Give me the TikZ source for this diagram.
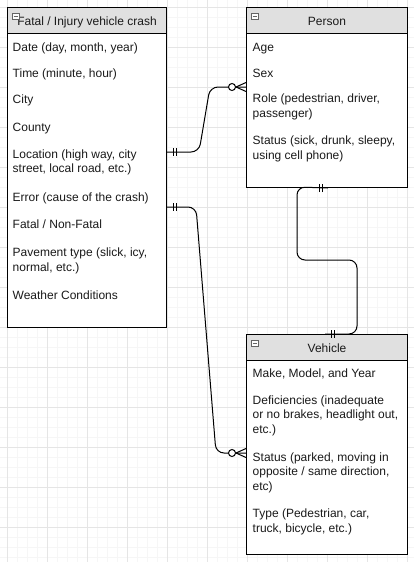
\documentclass[tikz,border=0pt]{standalone}
\usepackage{fontspec}
\setmainfont{Liberation Sans}
\definecolor{headgray}{HTML}{E0E0E0}
\definecolor{textgray}{HTML}{1A1A1A}
\definecolor{icongray}{HTML}{666666}
\tikzset{
  erone/.pic={\draw[line width=1pt] (6,-4) -- (6,4) (9,-4) -- (9,4);},
  ermany/.pic={\draw[line width=1pt] (-10,0) -- (0,-4.5) (-10,0) -- (0,4.5);
    \draw[line width=1pt, fill=white] (-14,0) circle (3.5);},
  collapse/.pic={\draw[line width=0.6pt, draw=icongray, fill=white] (0,0) rectangle (7,6);
    \draw[line width=0.6pt, icongray] (1.5,3) -- (5.5,3);}
}
\begin{document}
\begin{tikzpicture}[x=1pt,y=-1pt]
        % styles
        \tikzstyle{entity}=[draw, line width=1pt, fill=white, anchor=north west, inner sep=0pt]
        \tikzstyle{header}=[entity, fill=headgray, minimum height=26pt, text height=11pt, text depth=0.5pt, text=textgray, font=\fontsize{12}{14.2}\selectfont]
        \tikzstyle{attr}=[anchor=base west, align=left, inner sep=0pt, text=textgray, font=\fontsize{12}{14.2}\selectfont]
        \tikzstyle{rel}=[line width=1pt, rounded corners=8pt]
        \tikzstyle{minorgrid}=[line width=0.5pt, gray!7]
        \tikzstyle{majorgrid}=[line width=0.5pt, gray!20]

        \useasboundingbox (0,0) rectangle (414,562);

        % grid
        \foreach \g in {7,17,...,407} \draw[minorgrid] (\g,0) -- (\g,562);
        \foreach \g in {7,17,...,557} \draw[minorgrid] (0,\g) -- (414,\g);
        \foreach \g in {7,47,...,407} \draw[majorgrid] (\g,0) -- (\g,562);
        \foreach \g in {7,47,...,527} \draw[majorgrid] (0,\g) -- (414,\g);

        % entities
        \node[entity, minimum width=159pt, minimum height=320pt] (crash) at (7,7) {};
        \node[header, minimum width=159pt] (crashhead) at (crash.north west) {Fatal / Injury vehicle crash};
        \pic at ([shift={(5,6)}]crash.north west) {collapse};

        \node[entity, minimum width=161pt, minimum height=180pt] (person) at (246,7) {};
        \node[header, minimum width=161pt] (personhead) at (person.north west) {Person};
        \pic at ([shift={(5,6)}]person.north west) {collapse};

        \node[entity, minimum width=161pt, minimum height=220pt] (vehicle) at (246,334) {};
        \node[header, minimum width=161pt] (vehiclehead) at (vehicle.north west) {Vehicle};
        \pic at ([shift={(5,6)}]vehicle.north west) {collapse};

        % crash attributes (base = last line)
        \node[attr] (date) at (12.5,51) {Date (day, month, year)};
        \node[attr] (time) at (12.5,77) {Time (minute, hour)};
        \node[attr] (city) at (12.5,103) {City};
        \node[attr] (county) at (12.5,131) {County};
        \node[attr] (location) at (12.5,172.5) {Location (high way, city\\street, local road, etc.)};
        \node[attr] (error) at (12.5,201) {Error (cause of the crash)};
        \node[attr] (fatal) at (12.5,228) {Fatal / Non-Fatal};
        \node[attr] (pavement) at (12.5,271) {Pavement type (slick, icy,\\normal, etc.)};
        \node[attr] (weather) at (12.5,299) {Weather Conditions};

        % person attributes
        \node[attr] (age) at (252.5,51) {Age};
        \node[attr] (sex) at (252.5,77) {Sex};
        \node[attr] (role) at (252.5,117) {Role (pedestrian, driver,\\passenger)};
        \node[attr] (pstatus) at (252.5,159) {Status (sick, drunk, sleepy,\\using cell phone)};

        % vehicle attributes
        \node[attr] (make) at (252.5,377) {Make, Model, and Year};
        \node[attr] (deficiencies) at (252.5,433) {Deficiencies (inadequate\\or no brakes, headlight out,\\etc.)};
        \node[attr] (vstatus) at (252.5,490) {Status (parked, moving in\\opposite / same direction,\\etc)};
        \node[attr] (type) at (252.5,532) {Type (Pedestrian, car,\\truck, bicycle, etc.)};

        % connector ends
        \coordinate (crashA) at (crash.east |- 0,152);
        \coordinate (crashB) at (crash.east |- 0,207);
        \coordinate (personA) at (person.west |- 0,87);
        \coordinate (personB) at (person.south west -| 328,0);
        \coordinate (vehicleA) at (vehicle.west |- 0,453);
        \coordinate (vehicleB) at (vehicle.north west -| 325,0);

        % relations
        \draw[rel] (crashA) -- (199,152) -- (210,87) -- (personA);
        \draw[rel] (crashB) -- (196,207) -- (216,453) -- (vehicleA);
        \draw[rel] (personB) -- (297,187) -- (297,260) -- (357,260) -- (357,334) -- (vehicleB);
        \pic at (crashA) {erone};
        \pic at (crashB) {erone};
        \pic[rotate=180] at (personB) {erone};
        \pic at (vehicleB) {erone};
        \pic at (personA) {ermany};
        \pic at (vehicleA) {ermany};
    \end{tikzpicture}
\end{document}
